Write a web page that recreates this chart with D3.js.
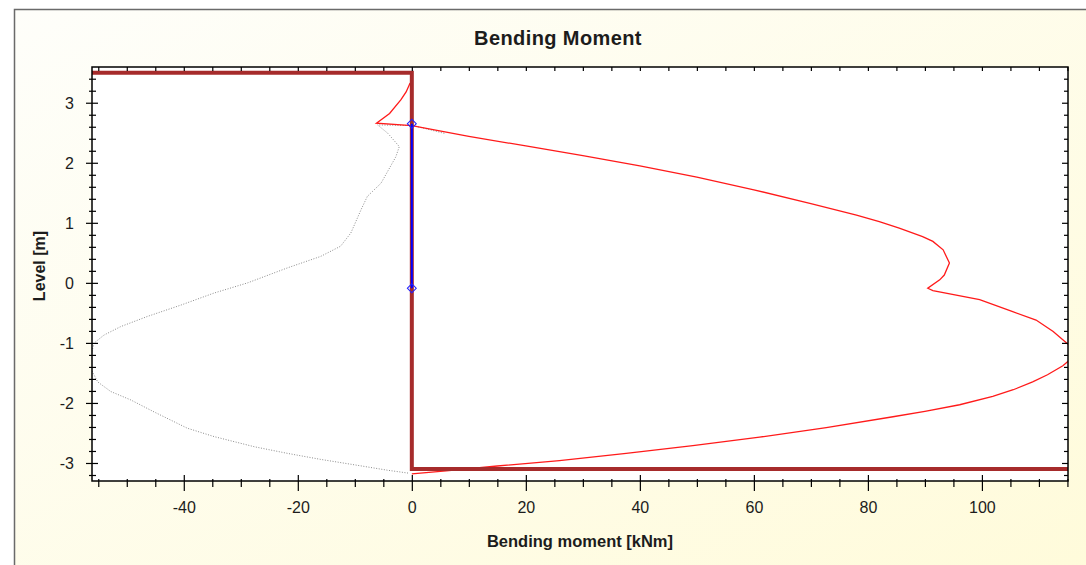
<!DOCTYPE html>
<html>
<head>
<meta charset="utf-8">
<script src="https://cdn.jsdelivr.net/npm/d3@7"></script>
<style>
body { margin: 0; background: #fff; }
svg text { font-family: "Liberation Sans", Arial, sans-serif; fill: #1c1c1c; }
</style>
</head>
<body>
<div id="container"></div>
<script>
const width = 1086;
const height = 565;

// current bending moment [kNm] vs level [m]
const momentM = [-0.3, -1.0, -1.9, -3.9, -6.2, 0, 10, 20, 30, 40, 50, 60, 70, 78, 82, 85.5, 89.6, 91.4, 93.2, 94.3, 93.4, 92.6, 90.5, 91.4, 99.6, 105.4, 109.5, 112.5, 114.6, 116.3, 115.8, 114.2, 111.5, 108.9, 105.5, 101.9, 96.1, 90, 84.4, 72.7, 61, 49.3, 37.6, 25.9, 15, 6, 0];
const momentLevel = [3.33, 3.18, 3.05, 2.82, 2.66, 2.62, 2.44, 2.28, 2.12, 1.95, 1.76, 1.55, 1.32, 1.13, 1.02, 0.91, 0.77, 0.69, 0.55, 0.33, 0.13, 0.05, -0.09, -0.13, -0.28, -0.48, -0.62, -0.81, -0.98, -1.12, -1.25, -1.38, -1.53, -1.65, -1.78, -1.89, -2.03, -2.14, -2.23, -2.41, -2.57, -2.71, -2.84, -2.96, -3.05, -3.13, -3.18];

// previous stage (dotted grey)
const prevM = [5.7, 0.2, -6.0, -4.2, -2.2, -2.8, -5.4, -7.8, -8.9, -10.7, -12.5, -16, -21.8, -28.8, -34.7, -40.5, -46.4, -51.1, -54.0, -55.7, -56.3, -56.2, -55.1, -52.8, -49.3, -45.2, -39.4, -34.7, -27.6, -21.8, -16, -10.1, -4.3, -0.5];
const prevLevel = [2.49, 2.62, 2.63, 2.49, 2.27, 2.1, 1.66, 1.44, 1.22, 0.83, 0.61, 0.44, 0.25, 0.0, -0.17, -0.37, -0.56, -0.73, -0.87, -1.0, -1.2, -1.45, -1.65, -1.81, -1.95, -2.15, -2.42, -2.56, -2.73, -2.84, -2.94, -3.03, -3.12, -3.17];

// wall / ground outline
const wallM = [-60, 0, 0, 120];
const wallLevel = [3.5, 3.5, -3.1, -3.1];

// anchor / support section
const anchorM = [0, 0];
const anchorLevel = [2.65, -0.09];

const xMajor = [-40, -20, 0, 20, 40, 60, 80, 100];
const yMajor = [-3, -2, -1, 0, 1, 2, 3];

const zip = (a, b) => a.map((v, i) => [v, b[i]]);

const m = { left: 92, top: 67, right: 1068, bottom: 481 };
const x = d3.scaleLinear().domain([-56.1, 115.1]).range([m.left, m.right]);
const y = d3.scaleLinear().domain([-3.3, 3.595]).range([m.bottom, m.top]);

const xMinor = d3.range(-55, 116, 5).filter((v) => v % 20 !== 0);
const xAll = d3.range(-55, 116, 5);
const yMinor = d3.range(-16, 18).map((v) => +(v * 0.2).toFixed(1)).filter((v) => Math.abs(v - Math.round(v)) > 1e-6);
const plain = (d) => String(d);

const svg = d3.select("#container")
    .append("svg")
    .attr("width", width)
    .attr("height", height);

const defs = svg.append("defs");
const grad = defs.append("linearGradient")
    .attr("id", "bg")
    .attr("x1", "0").attr("y1", "0")
    .attr("x2", "1").attr("y2", "1");
grad.append("stop").attr("offset", "0%").attr("stop-color", "#fefefa");
grad.append("stop").attr("offset", "100%").attr("stop-color", "#fffbd9");
defs.append("clipPath").attr("id", "plot")
    .append("rect")
    .attr("x", m.left).attr("y", m.top)
    .attr("width", m.right - m.left).attr("height", m.bottom - m.top);

// panel
svg.append("rect")
    .attr("x", 14.5).attr("y", 9.5)
    .attr("width", 1100).attr("height", 600)
    .attr("fill", "url(#bg)")
    .attr("stroke", "#6a6a6a")
    .attr("stroke-width", 1.5);

svg.append("rect")
    .attr("x", m.left).attr("y", m.top)
    .attr("width", m.right - m.left).attr("height", m.bottom - m.top)
    .attr("fill", "#fff");

const line = d3.line().x((d) => x(d[0])).y((d) => y(d[1]));
const g = svg.append("g").attr("clip-path", "url(#plot)");

g.append("path")
    .attr("d", line(zip(prevM, prevLevel)))
    .attr("fill", "none")
    .attr("stroke", "#8c8c8c")
    .attr("stroke-width", 1)
    .attr("stroke-dasharray", "1,1.6");

g.append("path")
    .attr("d", line(zip(momentM, momentLevel)))
    .attr("fill", "none")
    .attr("stroke", "#ff1a1a")
    .attr("stroke-width", 1.3);

g.append("path")
    .attr("d", line(zip(wallM, wallLevel)))
    .attr("fill", "none")
    .attr("stroke", "#a62b2b")
    .attr("stroke-width", 4);

g.append("path")
    .attr("d", line(zip(anchorM, anchorLevel)))
    .attr("fill", "none")
    .attr("stroke", "#0000ff")
    .attr("stroke-width", 2);

g.selectAll("path.mark")
    .data(zip(anchorM, anchorLevel))
    .enter()
    .append("path")
    .attr("class", "mark")
    .attr("d", d3.symbol().type(d3.symbolSquare).size(40))
    .attr("transform", (d) => `translate(${x(d[0])},${y(d[1])}) rotate(45)`)
    .attr("fill", "none")
    .attr("stroke", "#2020ff")
    .attr("stroke-width", 1);

// axes
const axBottom = svg.append("g")
    .attr("transform", `translate(0,${m.bottom})`)
    .call(d3.axisBottom(x).tickValues(xMajor).tickFormat(plain));
axBottom.selectAll(".tick line").attr("y1", -6).attr("y2", 10);
axBottom.selectAll(".tick text").attr("y", 32).attr("dy", 0).style("font-size", "16px");
axBottom.select(".domain").remove();

const axBottomMinor = svg.append("g")
    .attr("transform", `translate(0,${m.bottom})`)
    .call(d3.axisBottom(x).tickValues(xMinor).tickFormat(""));
axBottomMinor.selectAll(".tick line").attr("y1", -2).attr("y2", 6);
axBottomMinor.select(".domain").remove();

const axTop = svg.append("g")
    .attr("transform", `translate(0,${m.top})`)
    .call(d3.axisTop(x).tickValues(xAll).tickFormat("").tickSize(-4));
axTop.select(".domain").remove();

const axLeft = svg.append("g")
    .attr("transform", `translate(${m.left},0)`)
    .call(d3.axisLeft(y).tickValues(yMajor).tickFormat(plain));
axLeft.selectAll(".tick line").attr("x1", -6).attr("x2", 6);
axLeft.selectAll(".tick text").attr("x", -18).attr("dy", "0.35em").style("font-size", "16px");
axLeft.select(".domain").remove();

const axLeftMinor = svg.append("g")
    .attr("transform", `translate(${m.left},0)`)
    .call(d3.axisLeft(y).tickValues(yMinor).tickFormat(""));
axLeftMinor.selectAll(".tick line").attr("x1", -3).attr("x2", 4);
axLeftMinor.select(".domain").remove();

const axRight = svg.append("g")
    .attr("transform", `translate(${m.right},0)`)
    .call(d3.axisRight(y).tickValues(yMajor).tickFormat("").tickSize(-6));
axRight.select(".domain").remove();
const axRightMinor = svg.append("g")
    .attr("transform", `translate(${m.right},0)`)
    .call(d3.axisRight(y).tickValues(yMinor).tickFormat("").tickSize(-4));
axRightMinor.select(".domain").remove();

svg.selectAll(".tick line").attr("stroke", "#000").attr("stroke-width", 1.2);

svg.append("rect")
    .attr("x", m.left).attr("y", m.top)
    .attr("width", m.right - m.left).attr("height", m.bottom - m.top)
    .attr("fill", "none")
    .attr("stroke", "#000")
    .attr("stroke-width", 1.5);

// titles
svg.append("text")
    .attr("x", 558).attr("y", 45)
    .attr("text-anchor", "middle")
    .style("font-size", "20px")
    .style("font-weight", "bold")
    .style("letter-spacing", "0.4px")
    .text("Bending Moment");

svg.append("text")
    .attr("x", 580).attr("y", 547)
    .attr("text-anchor", "middle")
    .style("font-size", "16.5px")
    .style("font-weight", "bold")
    .text("Bending moment [kNm]");

svg.append("text")
    .attr("transform", "translate(45,266) rotate(-90)")
    .attr("text-anchor", "middle")
    .style("font-size", "16px")
    .style("font-weight", "bold")
    .text("Level [m]");
</script>
</body>
</html>
